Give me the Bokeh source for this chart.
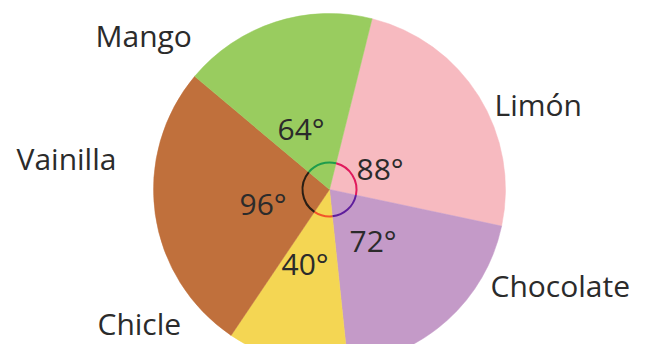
from bokeh.plotting import figure
from bokeh.models import Range1d, ColumnDataSource
from bokeh.core.properties import value
from bokeh.embed import file_html
from bokeh.resources import INLINE
import math

# Data
flavors = ["Limón", "Chocolate", "Chicle", "Vainilla", "Mango"]
degrees = [88, 72, 40, 96, 64]
colors = ["#F7BAC0", "#C49AC8", "#F4D653", "#C0703C", "#99CC5F"]
arc_colors = ["#E01A5C", "#5E1E9C", "#F2552A", "#2A1E14", "#1E9C4C"]
start_offset = 14  # degrees clockwise from top where Limón begins

# label positions (px from top-left: left x, baseline y)
name_x = [494, 490, 97, 16, 95]
name_y = [104, 285, 323, 158, 35]
deg_x = [356, 349, 281, 239, 277]
deg_y = [168, 240, 263, 203, 128]

W, H = 630, 344
p = figure(width=W, height=H, output_backend="svg", toolbar_location=None,
           x_range=Range1d(0, W), y_range=Range1d(360 - H, 360),
           min_border=0, outline_line_color=None)
p.axis.visible = False
p.grid.visible = False
p.background_fill_color = "white"

cx, cy, r = 329, 360 - 189, 176

starts, ends = [], []
acc = start_offset
for d in degrees:
    starts.append(math.radians(90 - acc))
    ends.append(math.radians(90 - acc - d))
    acc += d

src = ColumnDataSource(dict(start=starts, end=ends, color=colors, arc=arc_colors))
p.wedge(x=cx, y=cy, radius=r, start_angle="start", end_angle="end",
        direction="clock", fill_color="color", line_color="color", line_width=0.5,
        source=src)
p.arc(x=cx, y=cy, radius=27, start_angle="start", end_angle="end",
      direction="clock", line_color="arc", line_width=2, source=src)

tsrc = ColumnDataSource(dict(x=name_x, y=[360 - v for v in name_y], t=flavors))
p.text(x="x", y="y", text="t", source=tsrc, text_font=value("Open Sans"),
       text_font_size="30px", text_color="#2b2b2b", text_baseline="alphabetic",
       text_align="left")

dsrc = ColumnDataSource(dict(x=deg_x, y=[360 - v for v in deg_y],
                             t=[f"{d}°" for d in degrees]))
p.text(x="x", y="y", text="t", source=dsrc, text_font=value("Open Sans"),
       text_font_size="30px", text_color="#2b2b2b", text_baseline="alphabetic",
       text_align="left")

open("out.html", "w").write(file_html(p, INLINE))
